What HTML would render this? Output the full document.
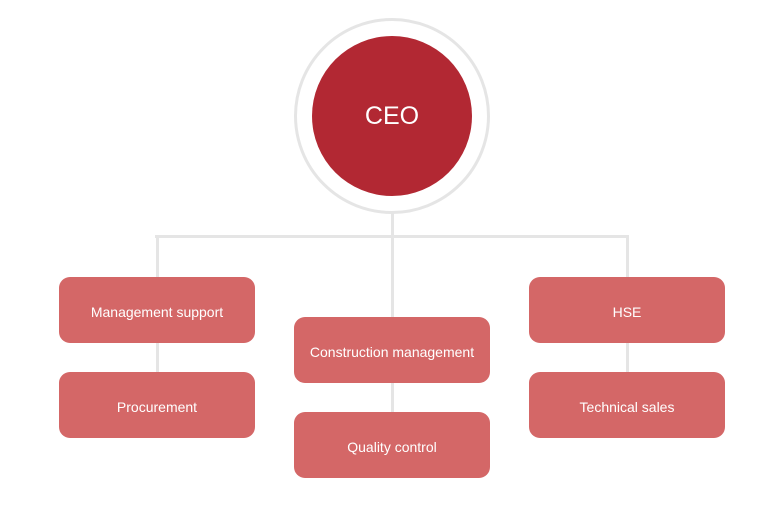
<!DOCTYPE html>
<html><head><meta charset="utf-8"><style>
body{margin:0;width:783px;height:505px;background:#fff;position:relative;overflow:hidden;font-family:"Liberation Sans","Noto Sans CJK KR",sans-serif}
.l{position:absolute;background:#e5e5e5}
.b{position:absolute;width:196px;height:66px;box-sizing:border-box;padding-top:3px;background:#d46767;border-radius:11px;color:#fff;font-size:14px;display:flex;align-items:center;justify-content:center}
</style></head><body>
<div class="l" style="left:155px;top:235px;width:474px;height:3px"></div>
<div class="l" style="left:390.5px;top:205px;width:3px;height:112px"></div>
<div class="l" style="left:155.5px;top:235px;width:3px;height:140px"></div>
<div class="l" style="left:625.5px;top:235px;width:3px;height:140px"></div>
<div class="l" style="left:390.5px;top:380px;width:3px;height:34px"></div>
<div style="position:absolute;left:294px;top:18px;width:190px;height:190px;border:3px solid #e5e5e5;border-radius:50%;background:#fff"></div>
<div style="position:absolute;left:312px;top:36px;width:160px;height:160px;border-radius:50%;background:#b22833;color:#fff;font-size:25px;display:flex;align-items:center;justify-content:center">CEO</div>
<div class="b" style="left:59px;top:277px">Management support</div>
<div class="b" style="left:59px;top:372px">Procurement</div>
<div class="b" style="left:294px;top:317px">Construction management</div>
<div class="b" style="left:294px;top:412px">Quality control</div>
<div class="b" style="left:529px;top:277px">HSE</div>
<div class="b" style="left:529px;top:372px">Technical sales</div>
</body></html>
